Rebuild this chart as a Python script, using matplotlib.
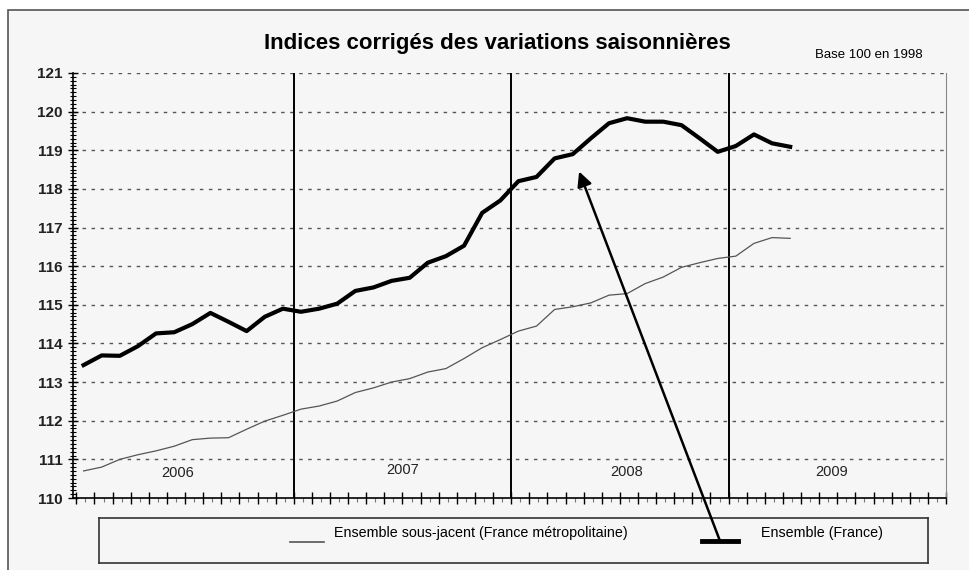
import matplotlib
matplotlib.use("Agg")
import matplotlib.pyplot as plt
from matplotlib.patches import Rectangle

plt.rcParams['font.family'] = ['Liberation Sans', 'DejaVu Sans']

# monthly index, Jan 2006 .. Apr 2009
months = list(range(40))
france = [113.44, 113.69, 113.68, 113.93, 114.26, 114.29, 114.50, 114.79, 114.56, 114.32,
          114.69, 114.90, 114.82, 114.90, 115.03, 115.36, 115.45, 115.62, 115.70, 116.09,
          116.26, 116.53, 117.38, 117.70, 118.20, 118.31, 118.79, 118.90, 119.31, 119.70,
          119.83, 119.74, 119.74, 119.65, 119.31, 118.96, 119.11, 119.41, 119.18, 119.09]
sous_jacent = [110.70, 110.80, 111.00, 111.12, 111.22, 111.34, 111.51, 111.55, 111.56, 111.78,
               111.99, 112.14, 112.30, 112.38, 112.51, 112.73, 112.85, 113.00, 113.09, 113.26,
               113.35, 113.61, 113.89, 114.10, 114.32, 114.45, 114.88, 114.95, 115.05, 115.25,
               115.29, 115.55, 115.72, 115.97, 116.09, 116.20, 116.26, 116.59, 116.74, 116.72]
years = ['2006', '2007', '2008', '2009']
year_label_x = [5.6, 18.0, 30.4, 41.7]
year_label_y = [110.65, 110.73, 110.67, 110.67]
year_breaks = [12, 24, 36]
label_sj = 'Ensemble sous-jacent (France métropolitaine)'
label_fr = 'Ensemble (France)'

W, H = 969, 570
bg = '#f6f6f6'
fig = plt.figure(figsize=(W / 100, H / 100), dpi=100, facecolor='white')

# outer frame
fig.patches.append(Rectangle((8 / W, -0.01), 1.0, 1 - 10 / H + 0.01, transform=fig.transFigure,
                             facecolor=bg, edgecolor='#555555', linewidth=1.2, zorder=-10))

ax = fig.add_axes([72.7 / W, 1 - 498 / H, (946 - 72.7) / W, (498 - 73) / H])
ax.set_facecolor('none')
ax.set_zorder(3)

x = [m + 0.4 for m in months]
ax.plot(x, sous_jacent, color='#555555', linewidth=0.9, zorder=3)
ax.plot(x, france, color='black', linewidth=3.0, zorder=4, solid_joinstyle='round')

for b in year_breaks:
    ax.axvline(b, color='black', linewidth=1.4, zorder=2)

ax.set_xlim(-0.2, 48)
ax.set_ylim(110, 121)
ax.set_yticks(range(110, 122))
ax.set_yticks([110 + i * 0.1 for i in range(111)], minor=True)
ax.set_xticks(range(0, 49))
ax.set_xticks([i + 0.5 for i in range(48)], minor=True)
ax.set_xticklabels([])
ax.tick_params(axis='y', which='major', direction='inout', length=7, width=1, labelsize=11, pad=4)
ax.tick_params(axis='y', which='minor', direction='inout', length=5, width=0.8)
ax.tick_params(axis='x', which='major', direction='inout', length=8, width=1)
ax.tick_params(axis='x', which='minor', direction='out', length=3, width=0.8, color='#777777')
for lab in ax.get_yticklabels():
    lab.set_fontweight('bold')
    lab.set_color('#222222')

for v in range(111, 122):
    ax.axhline(v, color='#555555', linewidth=1.0, linestyle=(0, (2.5, 4)), zorder=1)

ax.spines['top'].set_visible(False)
ax.spines['right'].set_color('#888888')
ax.spines['left'].set_linewidth(1.2)
ax.spines['bottom'].set_linewidth(1.2)

for yr, lx, ly in zip(years, year_label_x, year_label_y):
    ax.text(lx, ly, yr, ha='center', va='center', fontsize=10.5, color='#222222')

fig.text(497 / W, 1 - 44 / H, 'Indices corrigés des variations saisonnières',
         ha='center', va='center', fontsize=16, fontweight='bold')
fig.text(923 / W, 1 - 55 / H, 'Base 100 en 1998', ha='right', va='center', fontsize=9.5)

# legend box
lg = fig.add_axes([99 / W, 1 - 563 / H, (928 - 99) / W, (563 - 518) / H])
lg.set_zorder(1)
lg.set_xlim(99, 928)
lg.set_ylim(563, 518)
lg.set_facecolor(bg)
lg.set_xticks([])
lg.set_yticks([])
for s in lg.spines.values():
    s.set_linewidth(1.2)
    s.set_color('#333333')
lg.plot([290, 324], [542, 542], color='#555555', linewidth=1.2)
lg.plot([702, 738], [541, 541], color='black', linewidth=3.5)
lg.text(334, 533, label_sj, ha='left', va='center', fontsize=10.3)
lg.text(761, 533, label_fr, ha='left', va='center', fontsize=10.3)

# arrow from the legend to the France series
ax.annotate('', xy=(27.75, 118.45), xycoords='data',
            xytext=(720 / W, 1 - 541 / H), textcoords='figure fraction',
            arrowprops=dict(arrowstyle='-|>', color='black', linewidth=1.8, mutation_scale=22,
                            shrinkA=0, shrinkB=0),
            annotation_clip=False, zorder=10)

fig.savefig('out.png', dpi=100, facecolor=fig.get_facecolor())
